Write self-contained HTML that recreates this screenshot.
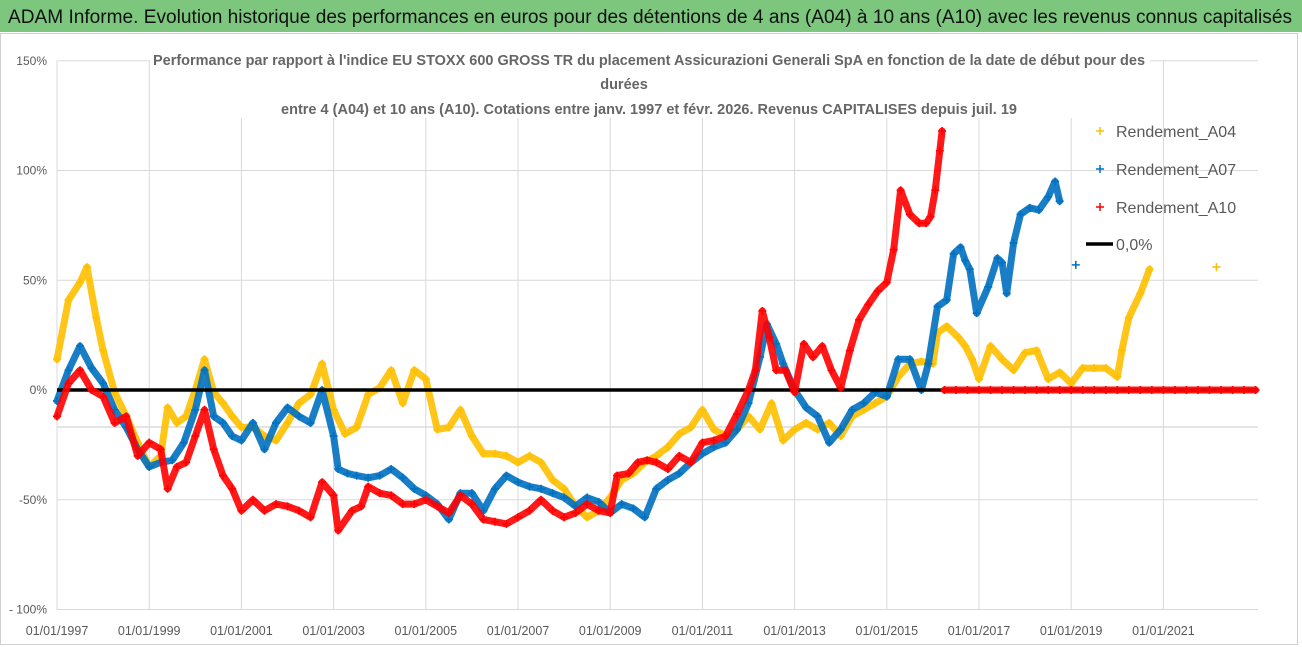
<!DOCTYPE html>
<html><head><meta charset="utf-8"><style>
html,body{margin:0;padding:0;background:#fff;}
svg{display:block;font-family:"Liberation Sans",sans-serif;}
</style></head><body>
<svg id="chart" width="1302" height="647" viewBox="0 0 1302 647" xmlns="http://www.w3.org/2000/svg">
<rect x="0" y="0" width="1302" height="647" fill="#fff"/>
<rect x="0" y="0" width="1302" height="32" fill="#7DC67E"/>
<text x="8" y="23" font-size="19" fill="#111" textLength="1284" lengthAdjust="spacingAndGlyphs">ADAM Informe. Evolution historique des performances en euros pour des détentions de 4 ans (A04) à 10 ans (A10) avec les revenus connus capitalisés</text>
<rect x="0.5" y="33.5" width="1297" height="611" fill="none" stroke="#d0d0d0"/>
<g id="grid"></g>
<g id="series"></g>
<g id="axes"></g>
<rect x="150" y="46" width="1000" height="72" fill="#fff"/>
<text x="153" y="65" font-size="14.5" font-weight="bold" fill="#666" textLength="992" lengthAdjust="spacingAndGlyphs">Performance par rapport à l'indice EU STOXX 600 GROSS TR  du placement Assicurazioni Generali SpA en fonction de la date de début pour des</text>
<text x="624" y="89" font-size="14.5" font-weight="bold" fill="#666" text-anchor="middle">durées</text>
<text x="281" y="114" font-size="14.5" font-weight="bold" fill="#666" textLength="736" lengthAdjust="spacingAndGlyphs">entre 4 (A04) et 10 ans (A10). Cotations entre janv. 1997 et févr. 2026. Revenus CAPITALISES depuis juil. 19</text>
<g>
  <g><path d="M1096 131h8M1100 127v8" stroke="#FFC000" stroke-width="1.5"/><text x="1116" y="137" font-size="16" fill="#595959">Rendement_A04</text></g>
  <g><path d="M1096 169h8M1100 165v8" stroke="#0070C0" stroke-width="1.5"/><text x="1116" y="175" font-size="16" fill="#595959">Rendement_A07</text></g>
  <g><path d="M1096 207h8M1100 203v8" stroke="#FF0000" stroke-width="1.5"/><text x="1116" y="213" font-size="16" fill="#595959">Rendement_A10</text></g>
  <g><line x1="1086" y1="244" x2="1113" y2="244" stroke="#000" stroke-width="3.5"/><text x="1116" y="250" font-size="16" fill="#595959">0,0%</text></g>
</g>
</svg>
<script>
const tA04=[1997.0,1997.25,1997.5,1997.65,1997.85,1998.0,1998.25,1998.5,1998.75,1999.0,1999.25,1999.4,1999.6,1999.8,2000.0,2000.2,2000.4,2000.6,2000.8,2001.0,2001.25,2001.5,2001.75,2002.0,2002.25,2002.5,2002.75,2003.0,2003.25,2003.5,2003.75,2004.0,2004.25,2004.5,2004.75,2005.0,2005.25,2005.5,2005.75,2006.0,2006.25,2006.5,2006.75,2007.0,2007.25,2007.5,2007.75,2008.0,2008.25,2008.5,2008.75,2009.0,2009.25,2009.5,2009.75,2010.0,2010.25,2010.5,2010.75,2011.0,2011.25,2011.5,2011.75,2012.0,2012.25,2012.5,2012.75,2013.0,2013.25,2013.5,2013.75,2014.0,2014.25,2014.5,2014.75,2015.0,2015.25,2015.5,2015.75,2016.0,2016.1,2016.3,2016.55,2016.7,2016.85,2017.0,2017.25,2017.5,2017.75,2018.0,2018.25,2018.5,2018.75,2019.0,2019.25,2019.5,2019.75,2020.0,2020.1,2020.25,2020.5,2020.7,2022.15];
const vA04=[14,41,49,56,33,18,-1,-12,-24,-35,-30,-8,-15,-12,0,14,-1,-6,-12,-17,-17,-21,-23,-15,-6,-2,12,-9,-20,-17,-2,1,9,-6,9,5,-18,-17,-9,-21,-29,-29,-30,-33,-30,-33,-41,-45,-53,-58,-55,-49,-41,-38,-33,-30,-26,-20,-17,-9,-18,-21,-18,-12,-18,-6,-23,-18,-15,-18,-15,-21,-12,-9,-6,-3,6,12,13,12,26,29,24,20,14,5,20,14,9,17,18,5,8,3,10,10,10,6,18,33,44,55,56];
const tA07=[1997.0,1997.25,1997.5,1997.75,1998.0,1998.25,1998.5,1998.75,1999.0,1999.25,1999.5,1999.75,2000.0,2000.2,2000.4,2000.6,2000.8,2001.0,2001.25,2001.5,2001.75,2002.0,2002.25,2002.5,2002.75,2003.0,2003.1,2003.3,2003.5,2003.75,2004.0,2004.25,2004.5,2004.75,2005.0,2005.25,2005.5,2005.75,2006.0,2006.25,2006.5,2006.75,2007.0,2007.25,2007.5,2007.75,2008.0,2008.25,2008.5,2008.75,2009.0,2009.25,2009.5,2009.75,2010.0,2010.25,2010.5,2010.75,2011.0,2011.25,2011.5,2011.75,2012.0,2012.25,2012.4,2012.6,2012.75,2013.0,2013.25,2013.5,2013.75,2014.0,2014.25,2014.5,2014.75,2015.0,2015.25,2015.5,2015.75,2015.9,2016.1,2016.3,2016.45,2016.6,2016.7,2016.8,2016.95,2017.2,2017.4,2017.5,2017.6,2017.75,2017.9,2018.1,2018.3,2018.5,2018.65,2018.75,2019.1];
const vA07=[-5,9,20,10,3,-9,-17,-27,-35,-33,-32,-24,-9,9,-12,-15,-21,-23,-15,-27,-15,-8,-12,-15,0,-21,-36,-38,-39,-40,-39,-36,-40,-45,-48,-52,-59,-47,-47,-55,-45,-39,-42,-44,-45,-47,-49,-53,-49,-51,-56,-52,-54,-58,-45,-41,-38,-33,-29,-26,-24,-18,-6,15,30,21,12,0,-8,-12,-24,-18,-9,-6,-1,-3,14,14,0,12,38,41,62,65,59,55,35,47,60,58,44,67,80,83,82,88,95,86,57];
const tA10=[1997.0,1997.25,1997.5,1997.75,1998.0,1998.25,1998.5,1998.75,1999.0,1999.25,1999.4,1999.6,1999.8,2000.0,2000.2,2000.4,2000.6,2000.8,2001.0,2001.25,2001.5,2001.75,2002.0,2002.25,2002.5,2002.75,2003.0,2003.1,2003.4,2003.6,2003.75,2004.0,2004.25,2004.5,2004.75,2005.0,2005.25,2005.5,2005.75,2006.0,2006.25,2006.5,2006.75,2007.0,2007.25,2007.5,2007.75,2008.0,2008.25,2008.5,2008.75,2009.0,2009.15,2009.4,2009.6,2009.8,2010.0,2010.25,2010.5,2010.75,2011.0,2011.25,2011.5,2011.75,2012.0,2012.15,2012.3,2012.45,2012.6,2012.8,2013.0,2013.2,2013.4,2013.6,2013.8,2014.0,2014.2,2014.4,2014.6,2014.8,2015.0,2015.15,2015.3,2015.5,2015.7,2015.85,2015.95,2016.05,2016.15,2016.2,2016.25,2016.5,2016.75,2017.0,2017.25,2017.5,2017.75,2018.0,2018.25,2018.5,2018.75,2019.0,2019.25,2019.5,2019.75,2020.0,2020.25,2020.5,2020.75,2021.0,2021.25,2021.5,2021.75,2022.0,2022.25,2022.5,2022.75,2023.0];
const vA10=[-12,3,9,0,-3,-15,-12,-30,-24,-27,-45,-35,-33,-21,-9,-27,-39,-45,-55,-50,-55,-52,-53,-55,-58,-42,-48,-64,-55,-53,-44,-47,-48,-52,-52,-50,-53,-56,-48,-52,-59,-60,-61,-58,-55,-50,-55,-58,-56,-52,-55,-56,-39,-38,-33,-32,-33,-36,-30,-33,-24,-23,-21,-11,0,9,36,24,9,9,-1,21,15,20,9,1,18,32,39,45,49,64,91,80,76,76,79,91,109,118,0,0,0,0,0,0,0,0,0,0,0,0,0,0,0,0,0,0,0,0,0,0,0,0,0,0,0,0];
const yTicks=[150,100,50,0,-50,-100];
const yTickLabels=["150%","100%","50%","0%","-50%","- 100%"];
const xTicks=[1997,1999,2001,2003,2005,2007,2009,2011,2013,2015,2017,2019,2021];
const xTickLabels=["01/01/1997","01/01/1999","01/01/2001","01/01/2003","01/01/2005","01/01/2007","01/01/2009","01/01/2011","01/01/2013","01/01/2015","01/01/2017","01/01/2019","01/01/2021"];

const NS="http://www.w3.org/2000/svg";
const X0=57,X1=1258,T0=1997,PXY=46.1;
function xs(t){return X0+(t-T0)*PXY;}
function ys(v){return 390-v*2.195;}
function mk(tag,attrs,parent){const e=document.createElementNS(NS,tag);for(const k in attrs)e.setAttribute(k,attrs[k]);parent.appendChild(e);return e;}
const grid=document.getElementById('grid'),series=document.getElementById('series'),axes=document.getElementById('axes');

for(let i=0;i<yTicks.length;i++){
  if(yTicks[i]===0||yTicks[i]===-100)continue;
  const g=mk('line',{x1:X0,x2:X1,y1:ys(yTicks[i]),y2:ys(yTicks[i]),stroke:'#d9d9d9','stroke-width':1},grid);
  
  
}
const extra=mk('line',{x1:X0,x2:X1,y1:427,y2:427,stroke:'#c8c8c8','stroke-width':1},grid);


for(let i=0;i<xTicks.length;i++){
  const g=mk('line',{x1:xs(xTicks[i]),x2:xs(xTicks[i]),y1:ys(150),y2:ys(-100),stroke:'#d9d9d9','stroke-width':1},grid);
  
  
}
const xa=mk('line',{x1:X0,x2:X1,y1:ys(-100),y2:ys(-100),stroke:'#d9d9d9','stroke-width':1},axes);


for(let i=0;i<yTicks.length;i++){
  const t=mk('text',{x:47,y:ys(yTicks[i])+4,'font-size':12,fill:'#595959','text-anchor':'end'},axes);
  t.textContent=yTickLabels[i];
  
  
}
for(let i=0;i<xTicks.length;i++){
  const t=mk('text',{x:xs(xTicks[i]),y:635,'font-size':12.5,fill:'#595959','text-anchor':'middle'},axes);
  t.textContent=xTickLabels[i];
  
  
}

function drawSeries(ts,vs,color,name){
  const g=mk('g',{},series);
  
  
  let seg=[];
  const segs=[];
  for(let i=0;i<ts.length;i++){
    if(i>0&&(ts[i]-ts[i-1]>0.32||Math.abs(vs[i]-vs[i-1])>60)){segs.push(seg);seg=[];}
    seg.push([xs(ts[i]),ys(vs[i])]);
  }
  segs.push(seg);
  segs.forEach(s=>{
    if(s.length>1){
      const p=mk('polyline',{points:s.map(q=>q[0].toFixed(1)+','+q[1].toFixed(1)).join(' '),fill:'none',stroke:color,'stroke-width':7,'stroke-linejoin':'round','stroke-linecap':'round','stroke-opacity':0.9},g);
      
      
    }
  });
  for(let i=0;i<ts.length;i++){
    const x=xs(ts[i]),y=ys(vs[i]);
    const m=mk('path',{d:`M${x-4} ${y}h8M${x} ${y-4}v8`,stroke:color,'stroke-width':1.6},g);
    
    
  }
}
drawSeries(tA04,vA04,'#FFC000','series-a04');
drawSeries(tA07,vA07,'#0070C0','series-a07');
const zl=mk('line',{x1:X0,x2:X1,y1:ys(0),y2:ys(0),stroke:'#000','stroke-width':3.5},series);


drawSeries(tA10,vA10,'#FF0000','series-a10');
</script>
</body></html>
